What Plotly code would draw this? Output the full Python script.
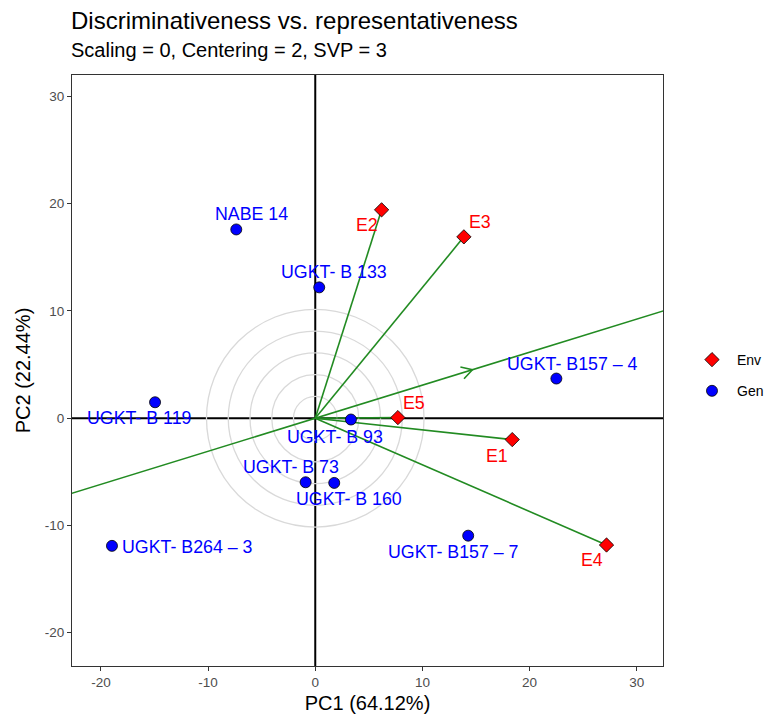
import numpy as np
import plotly.graph_objects as go

# ---- data ----
gen_names = ["NABE 14", "UGKT- B 133", "UGKT- B 119", "UGKT- B157 – 4", "UGKT- B 93",
             "UGKT- B 73", "UGKT- B 160", "UGKT- B264 – 3", "UGKT- B157 – 7"]
gen_pc1 = [-7.37, 0.37, -14.95, 22.5, 3.33, -0.9, 1.77, -18.97, 14.27]
gen_pc2 = [17.6, 12.2, 1.49, 3.7, -0.12, -5.97, -6.03, -11.9, -10.95]

env_names = ["E1", "E2", "E3", "E4", "E5"]
env_pc1 = [18.38, 6.19, 13.87, 27.18, 7.71]
env_pc2 = [-1.99, 19.43, 16.91, -11.82, 0.06]

x_ticks = [-20, -10, 0, 10, 20, 30]
y_ticks = [-20, -10, 0, 10, 20, 30]

title = "Discriminativeness vs. representativeness"
subtitle = "Scaling = 0, Centering = 2, SVP = 3"
x_title = "PC1 (64.12%)"
y_title = "PC2 (22.44%)"

# label offsets in pixels (style)
gen_shift = {"NABE 14": (15, 15, "center"), "UGKT- B 133": (15, 15, "center"),
             "UGKT- B 119": (-16, -16, "center"), "UGKT- B157 – 4": (16, 15, "center"),
             "UGKT- B 93": (-16, -17, "center"), "UGKT- B 73": (-15, 15, "center"),
             "UGKT- B 160": (15, -16, "center"), "UGKT- B264 – 3": (8, -1, "left"),
             "UGKT- B157 – 7": (-15, -16, "center")}
env_shift = {"E1": (-15, -16), "E2": (-15, -15), "E3": (16, 15), "E4": (-15, -15), "E5": (16, 15)}

FONT = "Liberation Sans, Arial, sans-serif"
GREEN = "#228B22"
LABEL_SIZE = 17.8

fig = go.Figure()

# concentric circles
rmax = 10.15
for k in range(1, 6):
    r = rmax * k / 5
    fig.add_shape(type="circle", xref="x", yref="y", x0=-r, y0=-r, x1=r, y1=r,
                  line=dict(color="#D9D9D9", width=1.3), layer="below")

# zero lines
fig.add_shape(type="line", xref="x", yref="paper", x0=0, x1=0, y0=0, y1=1,
              line=dict(color="black", width=2), layer="below")
fig.add_shape(type="line", xref="paper", yref="y", x0=0, x1=1, y0=0, y1=0,
              line=dict(color="black", width=2), layer="below")

# environment vectors
for ex, ey in zip(env_pc1, env_pc2):
    fig.add_trace(go.Scatter(x=[0, ex], y=[0, ey], mode="lines",
                             line=dict(color=GREEN, width=1.6),
                             showlegend=False, hoverinfo="skip"))

# average environment axis
mx, my = float(np.mean(env_pc1)), float(np.mean(env_pc2))
k = 5.0
fig.add_trace(go.Scatter(x=[-k * mx, k * mx], y=[-k * my, k * my], mode="lines",
                         line=dict(color=GREEN, width=1.6),
                         showlegend=False, hoverinfo="skip"))
# open arrowhead at mean environment
ang = np.arctan2(my, mx)
L = 1.15
wx1 = mx - L * np.cos(ang - np.pi / 6)
wy1 = my - L * np.sin(ang - np.pi / 6)
wx2 = mx - L * np.cos(ang + np.pi / 6)
wy2 = my - L * np.sin(ang + np.pi / 6)
fig.add_trace(go.Scatter(x=[wx1, mx, wx2], y=[wy1, my, wy2], mode="lines",
                         line=dict(color=GREEN, width=1.6),
                         showlegend=False, hoverinfo="skip"))

# points
fig.add_trace(go.Scatter(x=env_pc1, y=env_pc2, mode="markers", name="Env", legendgroup="env",
                         marker=dict(symbol="diamond", color="red", size=11,
                                     line=dict(color="black", width=0.8))))
fig.add_trace(go.Scatter(x=gen_pc1, y=gen_pc2, mode="markers", name="Gen", legendgroup="gen",
                         marker=dict(symbol="circle", color="blue", size=11,
                                     line=dict(color="black", width=0.8))))

# labels
for n, gx, gy in zip(gen_names, gen_pc1, gen_pc2):
    dx, dy, anc = gen_shift[n]
    fig.add_annotation(x=gx, y=gy, text=n, showarrow=False, xshift=dx, yshift=dy,
                       xanchor=anc, yanchor="middle",
                       font=dict(family=FONT, size=LABEL_SIZE, color="blue"))
for n, ex, ey in zip(env_names, env_pc1, env_pc2):
    dx, dy = env_shift[n]
    fig.add_annotation(x=ex, y=ey, text=n, showarrow=False, xshift=dx, yshift=dy,
                       xanchor="center", yanchor="middle",
                       font=dict(family=FONT, size=LABEL_SIZE, color="red"))

# titles
fig.add_annotation(xref="paper", yref="paper", x=0, y=1, xshift=-3, yshift=55, text=title,
                   showarrow=False, xanchor="left", yanchor="middle",
                   font=dict(family=FONT, size=24, color="black"))
fig.add_annotation(xref="paper", yref="paper", x=0, y=1, xshift=-3, yshift=25, text=subtitle,
                   showarrow=False, xanchor="left", yanchor="middle",
                   font=dict(family=FONT, size=20, color="black"))

axis_common = dict(showgrid=False, zeroline=False, showline=True, mirror=True,
                   automargin=False,
                   linecolor="#333333", linewidth=1.2, ticks="outside", ticklen=4,
                   tickcolor="#333333", tickwidth=1.2,
                   tickfont=dict(family=FONT, size=13.5, color="#4D4D4D"))

fig.update_layout(
    width=773, height=714,
    plot_bgcolor="white", paper_bgcolor="white",
    margin=dict(l=72, r=110, t=75, b=48, autoexpand=False),
    font=dict(family=FONT),
    xaxis=dict(range=[-22.7, 32.45], tickvals=x_ticks, ticktext=[str(v) for v in x_ticks],
               title=dict(text=x_title, font=dict(family=FONT, size=20, color="black"), standoff=6),
               **axis_common),
    yaxis=dict(range=[-23.1, 32.0], tickvals=y_ticks, ticktext=[str(v) for v in y_ticks],
               title=dict(text=y_title, font=dict(family=FONT, size=20, color="black"), standoff=8),
               **axis_common),
    legend=dict(x=1.0406, y=0.4915, xanchor="left", yanchor="middle",
                font=dict(family=FONT, size=14, color="black"), itemwidth=40,
                bgcolor="rgba(0,0,0,0)", tracegroupgap=10),
    showlegend=True,
)

fig.write_html("out.html", config={"displayModeBar": False},
               post_script="document.body.style.margin='0';")
